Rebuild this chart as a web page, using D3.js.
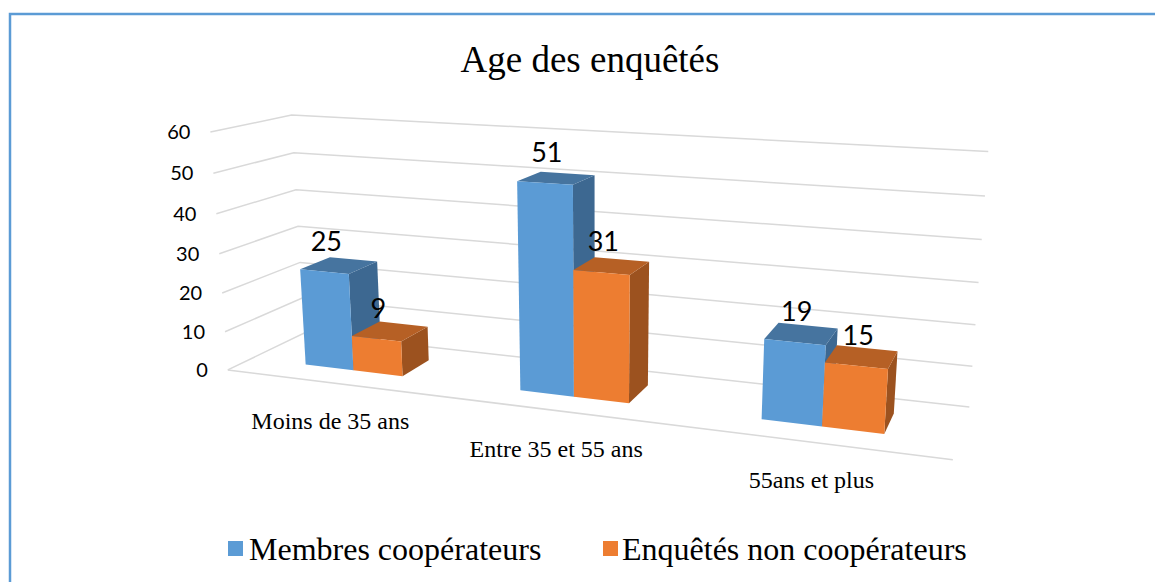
<!DOCTYPE html>
<html>
<head>
<meta charset="utf-8">
<script src="https://cdn.jsdelivr.net/npm/d3@7"></script>
<style>
  body { margin: 0; background: #fff; }
  text { font-family: "Liberation Serif", "Times New Roman", serif; }
  .num { font-family: Lato, "Open Sans", sans-serif; }
</style>
</head>
<body>
<script>
// data
var categories = ["Moins de 35 ans", "Entre 35 et 55 ans", "55ans et plus"];
var seriesNames = ["Membres coopérateurs", "Enquêtés non coopérateurs"];
var membres = [25, 51, 19];
var nonCoop = [9, 31, 15];
var yTicks = [0, 10, 20, 30, 40, 50, 60];

var width = 1155, height = 582;
var colors = [
  {front: "#5b9bd5", top: "#46749f", side: "#3d6891"},
  {front: "#ed7d31", top: "#b66025", side: "#9c521f"}
];

var svg = d3.select("body").append("svg")
  .attr("width", width)
  .attr("height", height);

// frame
svg.append("path")
  .attr("d", "M10,582 L10,14 L1155,14")
  .attr("fill", "none")
  .attr("stroke", "#5b9bd5")
  .attr("stroke-width", 2.5);

///////////////////////////
// CAMERA: fit a 3x4 projection from the plot box corners
// world: x 0..1 left->right, y 0..1 (value), z 0..1 front->back
var calib = [
  {w: [0, 0, 0], s: [228, 368]},
  {w: [0, 1, 0], s: [210, 133]},
  {w: [0, 0, 1], s: [304, 335]},
  {w: [0, 1, 1], s: [292, 114]},
  {w: [1, 0, 1], s: [969, 406]},
  {w: [1, 1, 1], s: [988, 152]},
  {w: [1, 0, 0], s: [953, 461]},
  {w: [1, 0.5, 1], s: [979, 282]}
];

function solveProjection(pts) {
  var A = [], b = [];
  pts.forEach(function(p) {
    var X = p.w[0], Y = p.w[1], Z = p.w[2];
    var u = (p.s[0] - 600) / 400, v = (p.s[1] - 300) / 400;
    A.push([X, Y, Z, 1, 0, 0, 0, 0, -u * X, -u * Y, -u * Z]); b.push(u);
    A.push([0, 0, 0, 0, X, Y, Z, 1, -v * X, -v * Y, -v * Z]); b.push(v);
  });
  var n = 11, M = [], r = [];
  for (var i = 0; i < n; i++) { M.push(new Array(n).fill(0)); r.push(0); }
  A.forEach(function(row, k) {
    for (var i = 0; i < n; i++) {
      r[i] += row[i] * b[k];
      for (var j = 0; j < n; j++) M[i][j] += row[i] * row[j];
    }
  });
  for (var c = 0; c < n; c++) {
    var piv = c;
    for (var i = c + 1; i < n; i++) if (Math.abs(M[i][c]) > Math.abs(M[piv][c])) piv = i;
    var t = M[c]; M[c] = M[piv]; M[piv] = t;
    t = r[c]; r[c] = r[piv]; r[piv] = t;
    for (var i = c + 1; i < n; i++) {
      var f = M[i][c] / M[c][c];
      for (var j = c; j < n; j++) M[i][j] -= f * M[c][j];
      r[i] -= f * r[c];
    }
  }
  var p = new Array(n);
  for (var i = n - 1; i >= 0; i--) {
    var s = r[i];
    for (var j = i + 1; j < n; j++) s -= M[i][j] * p[j];
    p[i] = s / M[i][i];
  }
  return p;
}

var P = solveProjection(calib);
function proj(X, Y, Z) {
  var w = P[8] * X + P[9] * Y + P[10] * Z + 1;
  var u = (P[0] * X + P[1] * Y + P[2] * Z + P[3]) / w;
  var v = (P[4] * X + P[5] * Y + P[6] * Z + P[7]) / w;
  return [u * 400 + 600, v * 400 + 300];
}
var line = d3.line();

///////////////////////////
// SCALES
var x = d3.scaleBand().domain(categories).range([0, 1]);
var xs = d3.scaleBand().domain(seriesNames).range([0, x.bandwidth()]).paddingOuter(1.15);
var y = d3.scaleLinear().domain([0, 60]).range([0, 1]);
var z0 = 0.3, z1 = 0.7;

///////////////////////////
// WALLS / GRID
var grid = svg.append("g");
grid.selectAll("path")
  .data(yTicks)
  .enter()
  .append("path")
  .attr("d", function(d) {
    return line([proj(0, y(d), 0), proj(0, y(d), 1), proj(1, y(d), 1)]);
  })
  .attr("fill", "none")
  .attr("stroke", "#d9d9d9")
  .attr("stroke-width", 1.5);
grid.append("path")
  .attr("d", line([proj(0, 0, 0), proj(1, 0, 0)]))
  .attr("fill", "none")
  .attr("stroke", "#d9d9d9")
  .attr("stroke-width", 1.5);

// y axis labels
svg.append("g")
  .selectAll("text")
  .data(yTicks)
  .enter()
  .append("text")
  .attr("class", "num")
  .attr("x", function(d) { return proj(0, y(d), 0)[0] - 20; })
  .attr("y", function(d) { return proj(0, y(d), 0)[1] + 7; })
  .attr("text-anchor", "end")
  .attr("font-size", 20)
  .attr("fill", "#000")
  .text(function(d) { return d; });

// category labels
svg.append("g")
  .selectAll("text")
  .data(categories)
  .enter()
  .append("text")
  .attr("x", function(d) { return proj(x(d) + x.bandwidth() / 2, 0, 0)[0] - 1; })
  .attr("y", function(d) { return proj(x(d) + x.bandwidth() / 2, 0, 0)[1] + 46; })
  .attr("text-anchor", "middle")
  .attr("font-size", 24)
  .attr("fill", "#000")
  .text(function(d) { return d; });

///////////////////////////
// BARS
var bars = [];
categories.forEach(function(c, i) {
  [membres[i], nonCoop[i]].forEach(function(v, k) {
    bars.push({cat: c, s: k, v: v});
  });
});

var barG = svg.append("g");
bars.forEach(function(b) {
  var xa = x(b.cat) + xs(seriesNames[b.s]), xb = xa + xs.bandwidth();
  var h = y(b.v);
  var g = barG.append("g");
  var col = colors[b.s];
  // right side
  g.append("path")
    .attr("d", line([proj(xb, 0, z0), proj(xb, 0, z1), proj(xb, h, z1), proj(xb, h, z0)]) + "Z")
    .attr("fill", col.side);
  // top
  g.append("path")
    .attr("d", line([proj(xa, h, z0), proj(xb, h, z0), proj(xb, h, z1), proj(xa, h, z1)]) + "Z")
    .attr("fill", col.top);
  // front
  g.append("path")
    .attr("d", line([proj(xa, 0, z0), proj(xb, 0, z0), proj(xb, h, z0), proj(xa, h, z0)]) + "Z")
    .attr("fill", col.front);
});

// value labels
svg.append("g")
  .selectAll("text")
  .data(bars)
  .enter()
  .append("text")
  .attr("class", "num")
  .attr("x", function(b) {
    var xa = x(b.cat) + xs(seriesNames[b.s]);
    return proj(xa + xs.bandwidth() / 2, y(b.v), z0)[0] + 2;
  })
  .attr("y", function(b) {
    var xa = x(b.cat) + xs(seriesNames[b.s]);
    return proj(xa + xs.bandwidth() / 2, y(b.v), z0)[1] - 21;
  })
  .attr("text-anchor", "middle")
  .attr("font-size", 27)
  .attr("fill", "#000")
  .text(function(b) { return b.v; });

///////////////////////////
// TITLE + LEGEND
svg.append("text")
  .attr("x", 590)
  .attr("y", 72)
  .attr("text-anchor", "middle")
  .attr("font-size", 37)
  .attr("fill", "#000")
  .text("Age des enquêtés");

var legendX = [228, 603];
var legend = svg.append("g")
  .selectAll("g")
  .data(seriesNames)
  .enter()
  .append("g")
  .attr("transform", function(d, i) { return "translate(" + legendX[i] + ",541)"; });
legend.append("rect")
  .attr("width", 15)
  .attr("height", 15)
  .attr("fill", function(d, i) { return colors[i].front; });
legend.append("text")
  .attr("x", function(d, i) { return i ? 19 : 21; })
  .attr("y", 19)
  .attr("font-size", 32)
  .attr("fill", "#000")
  .text(function(d) { return d; });
</script>
</body>
</html>
